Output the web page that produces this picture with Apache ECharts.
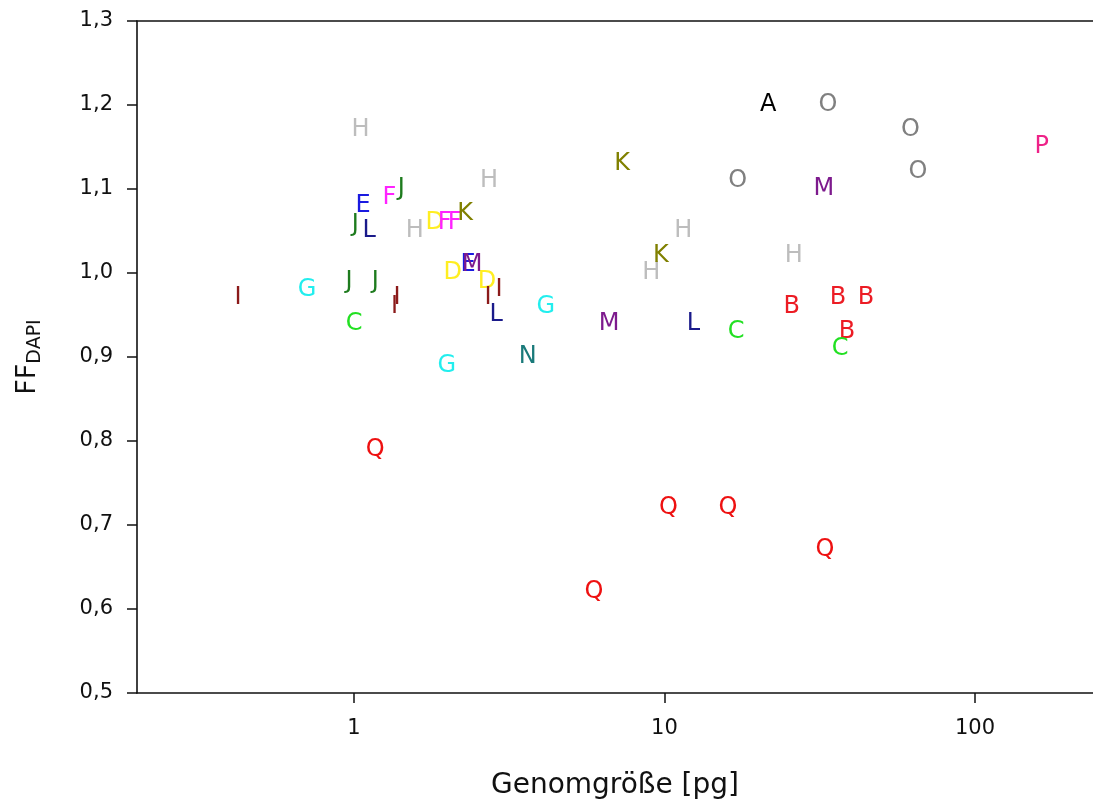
<!DOCTYPE html>
<html>
<head>
<meta charset="utf-8">
<script src="https://cdn.jsdelivr.net/npm/echarts@6/dist/echarts.min.js"></script>
<style>
html,body{margin:0;padding:0;background:#fff;}
#main{width:1093px;height:812px;}
</style>
</head>
<body>
<div id="main"></div>
<script>
// Data: letter code, genome size (pg), FF_DAPI
const letters = ['A','O','O','P','O','K','O','M','H','H','J','F','E','J','L','H','D','F','F','K','H','K','H','H','E','M','D','D','I','I','L','G','N','G','I','G','J','J','C','I','I','M','L','C','B','B','B','B','C','Q','Q','Q','Q','Q'];
const genomeSize = [21.6,33.6,62,164,65.5,7.3,17.2,32.6,1.05,2.72,1.42,1.30,1.07,1.01,1.12,1.57,1.82,1.96,2.11,2.28,11.5,9.74,9.06,26.1,2.33,2.40,2.08,2.68,2.93,2.70,2.87,4.15,3.63,1.99,0.423,0.706,0.963,1.17,1.0,1.375,1.35,6.63,12.4,17.0,25.7,36.2,44.6,38.7,36.8,1.17,10.3,16.0,32.9,5.93];
const ffDapi = [1.20,1.20,1.17,1.15,1.12,1.13,1.11,1.10,1.17,1.11,1.10,1.09,1.08,1.058,1.05,1.05,1.06,1.06,1.06,1.07,1.05,1.02,1.00,1.02,1.01,1.01,1.00,0.99,0.98,0.97,0.95,0.96,0.90,0.89,0.97,0.98,0.99,0.99,0.94,0.97,0.96,0.94,0.94,0.93,0.96,0.97,0.97,0.93,0.91,0.79,0.72,0.72,0.67,0.62];
const xTicks = [1, 10, 100];
const yMin = 0.5, yMax = 1.3, yStep = 0.1;
const letterColors = {
  A:'#000000', B:'#ec1c24', C:'#22e022', D:'#ffee22', E:'#1a1ae0', F:'#ff22ff',
  G:'#22eeee', H:'#bdbdbd', I:'#8b1a1a', J:'#1e7b1e', K:'#808000', L:'#1a1a8a',
  M:'#7d1a8d', N:'#1a7a7a', O:'#808080', P:'#ee2288', Q:'#ee1111'
};

const groups = {};
letters.forEach((l, i) => {
  (groups[l] = groups[l] || []).push([genomeSize[i], ffDapi[i]]);
});
const FONT = 'DejaVu Sans';
const series = Object.keys(groups).sort().map(l => ({
  type: 'scatter',
  name: l,
  data: groups[l],
  symbol: 'circle',
  symbolSize: 1,
  itemStyle: { color: 'rgba(0,0,0,0)', opacity: 1 },
  label: {
    show: true, position: 'inside', formatter: l, opacity: 1,
    color: letterColors[l], fontFamily: FONT, fontSize: 24
  },
  emphasis: { disabled: true },
  silent: true
}));

const chart = echarts.init(document.getElementById('main'));
chart.setOption({
  animation: false,
  backgroundColor: '#fff',
  grid: { left: 137, top: 21, right: 0, bottom: 119 },
  xAxis: [{
    type: 'log', logBase: 10, min: 0.2, max: 240,
    axisLine: { show: true, lineStyle: { color: '#111', width: 1.6 } },
    axisTick: { show: true, customValues: xTicks, length: 10, lineStyle: { color: '#111', width: 1.5 } },
    axisLabel: { customValues: xTicks, margin: 25, fontFamily: FONT, fontSize: 21, color: '#111',
      formatter: v => String(Math.round(v)) },
    minorTick: { show: false },
    splitLine: { show: false },
    name: 'Genomgröße [pg]', nameLocation: 'middle', nameGap: 79,
    nameTextStyle: { fontFamily: FONT, fontSize: 28, color: '#111' }
  }, {
    type: 'value', position: 'top', min: 0, max: 1,
    axisLine: { show: true, onZero: false, lineStyle: { color: '#111', width: 1.6 } },
    axisTick: { show: false }, axisLabel: { show: false }, splitLine: { show: false }
  }],
  yAxis: {
    type: 'value', min: yMin, max: yMax, interval: yStep,
    axisLine: { show: true, lineStyle: { color: '#111', width: 1.6 } },
    axisTick: { show: true, length: 10, lineStyle: { color: '#111', width: 1.5 } },
    axisLabel: { margin: 24, fontFamily: FONT, fontSize: 21, color: '#111',
      formatter: v => v.toFixed(1).replace('.', ',') },
    splitLine: { show: false },
    name: '{a|FF}{b|DAPI}', nameLocation: 'middle', nameGap: 92, nameRotate: 90,
    nameTextStyle: {
      rich: {
        a: { fontFamily: FONT, fontSize: 27, color: '#111', lineHeight: 34 },
        b: { fontFamily: FONT, fontSize: 19, color: '#111', lineHeight: 16, verticalAlign: 'bottom' }
      }
    }
  },
  series: series
});
</script>
</body>
</html>
